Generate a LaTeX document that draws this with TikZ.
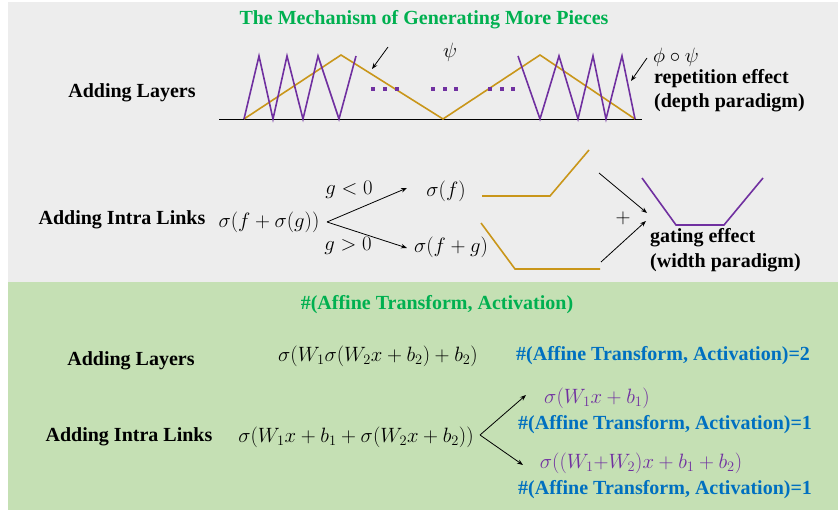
\documentclass[tikz,border=0pt]{standalone}
\usepackage{fontspec}
\setmainfont{Liberation Serif}[BoldFont={Liberation Serif Bold}, ItalicFont={Liberation Serif Italic}]
\usetikzlibrary{arrows.meta}
\definecolor{bggrey}{HTML}{EDEDED}
\definecolor{bggreen}{HTML}{C5E0B4}
\definecolor{ttlgreen}{HTML}{00B050}
\definecolor{gold}{HTML}{C9961A}
\definecolor{purp}{HTML}{7030A0}
\definecolor{blu}{HTML}{0070C0}
\begin{document}
\begin{tikzpicture}[x=1pt,y=-1pt,
  lbl/.style={font=\fontsize{20}{24}\selectfont\bfseries, inner sep=0pt, align=left},
  mth/.style={font=\fontsize{20}{24}\selectfont, inner sep=0pt},
  arr/.style={-{Stealth[length=6pt,width=4.5pt]}, line width=0.8pt},
  gl/.style={gold, line width=1.6pt},
  pl/.style={purp, line width=1.6pt},
  dotsq/.style={fill=purp, minimum size=4.5pt, inner sep=0pt, draw=none}]
\useasboundingbox[fill=white] (0,0) rectangle (838,510);
\fill[bggrey] (8,2) rectangle (838,282);
\fill[bggreen] (8,282) rectangle (838,510);

% ---------- top part ----------
\node[lbl, text=ttlgreen] (title) at (424,20) {The Mechanism of Generating More Pieces};
\node[lbl] (al1) at (132,93) {Adding Layers};

\draw[line width=0.8pt] (219,119) -- (642,119);
\draw[gl] (244,119) -- (341,55) -- (443,119) -- (540,55) -- (635,119);
\draw[pl, line join=miter] (244,119) -- (259,56) -- (273,119) -- (287,56) -- (303,119) -- (318,56) -- (339,119) -- (356,56);
\draw[pl, line join=miter] (518,56) -- (540,119) -- (559,56) -- (578,119) -- (593,56) -- (606,119) -- (622,56) -- (635,119);

\foreach \i/\xx in {d1/373,d2/385,d3/397,d4/433,d5/445,d6/456,d7/490,d8/502,d9/513}
  \node[dotsq] (\i) at (\xx,89) {};

\node[mth] (psi) at (450,52) {$\psi$};
\coordinate (a1s) at (388,47);
\coordinate (a1e) at (372,69);
\draw[arr] (a1s) -- (a1e);

\node[mth, anchor=west] (phipsi) at (653,57) {$\phi\circ\psi$};
\coordinate (a2s) at (647,58);
\coordinate (a2e) at (631,81);
\draw[arr] (a2s) -- (a2e);
\node[lbl, anchor=west] (rep) at (654,79) {repetition effect};
\node[lbl, anchor=west] (dep) at (654,103) {(depth paradigm)};

% ---------- middle part ----------
\node[lbl] (ail1) at (122,220) {Adding Intra Links};
\node[mth] (sfg) at (269,222) {$\sigma(f+\sigma(g))$};
\coordinate (br1) at (327,222);
\coordinate (t1) at (407,188);
\coordinate (t2) at (407,248);
\draw[arr] (br1) -- (t1);
\draw[arr] (br1) -- (t2);
\node[mth] (glt) at (349,190) {$g<0$};
\node[mth] (ggt) at (348,246) {$g>0$};
\node[mth] (sf) at (446,191) {$\sigma(f)$};
\node[mth] (sfpg) at (451,247) {$\sigma(f+g)$};

\draw[gl] (482,196) -- (550,196) -- (589,150);
\draw[gl] (481,223) -- (515,269) -- (600,269);

\coordinate (b1s) at (599,173);
\coordinate (b1e) at (647,213);
\coordinate (b2s) at (601,262);
\coordinate (b2e) at (646,221);
\draw[arr] (b1s) -- (b1e);
\draw[arr] (b2s) -- (b2e);
\node[mth] (plus) at (623,218) {$+$};
\draw[pl] (642,178) -- (676,225) -- (724,225) -- (763,178);
\node[lbl, anchor=west] (gat) at (650,238) {gating effect};
\node[lbl, anchor=west] (wid) at (650,263) {(width paradigm)};

% ---------- bottom part ----------
\node[lbl, text=ttlgreen] (title2) at (437,305) {\#(Affine Transform, Activation)};
\node[lbl] (al2) at (131,361) {Adding Layers};
\node[mth] (eq1) at (378,356) {$\sigma(W_1\sigma(W_2x+b_2)+b_2)$};
\node[lbl, text=blu, anchor=west] (c2) at (516,356) {\#(Affine Transform, Activation)=2};

\node[lbl] (ail2) at (129,437) {Adding Intra Links};
\node[mth] (eq2) at (356,437) {$\sigma\bigl(W_1x+b_1+\sigma(W_2x+b_2)\bigr)$};
\coordinate (br2) at (480,435);
\coordinate (u1) at (526,395);
\coordinate (u2) at (523,465);
\draw[arr] (br2) -- (u1);
\draw[arr] (br2) -- (u2);
\node[mth, text=purp] (eq3) at (597,398) {$\sigma(W_1x+b_1)$};
\node[lbl, text=blu, anchor=west] (c3) at (518,425) {\#(Affine Transform, Activation)=1};
\node[mth, text=purp] (eq4) at (641,463) {$\sigma\bigl((W_1{+}W_2)x+b_1+b_2\bigr)$};
\node[lbl, text=blu, anchor=west] (c4) at (518,490) {\#(Affine Transform, Activation)=1};
\end{tikzpicture}
\end{document}
